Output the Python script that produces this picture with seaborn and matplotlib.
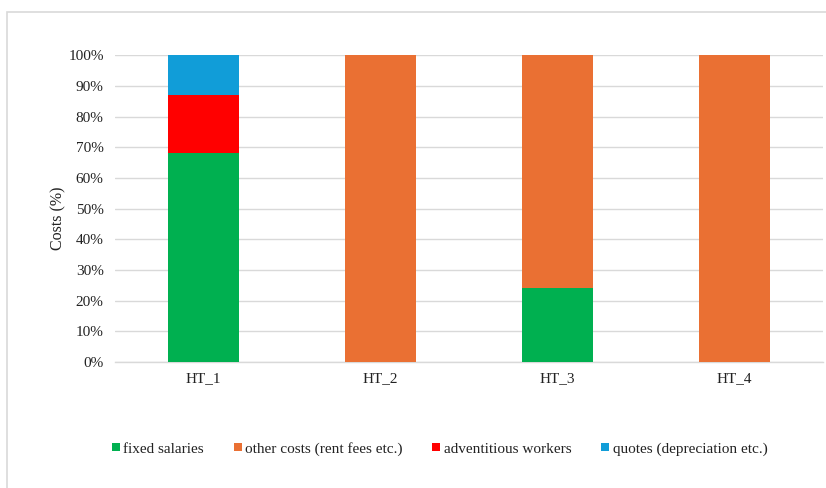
import matplotlib
matplotlib.use("Agg")
import matplotlib.pyplot as plt
from matplotlib.patches import Rectangle
from matplotlib.lines import Line2D
from matplotlib.ticker import PercentFormatter
import seaborn as sns
import pandas as pd
import numpy as np

categories = ["HT_1", "HT_2", "HT_3", "HT_4"]
fixed_salaries = [68, 0, 24, 0]
adventitious_workers = [19, 0, 0, 0]
quotes = [13, 0, 0, 0]
other_costs = [0, 100, 76, 100]

series = [
    ("fixed salaries", fixed_salaries, "#00b050"),
    ("adventitious workers", adventitious_workers, "#ff0000"),
    ("quotes (depreciation etc.)", quotes, "#119dd8"),
    ("other costs (rent fees etc.)", other_costs, "#ea7033"),
]
legend_order = ["fixed salaries", "other costs (rent fees etc.)",
                "adventitious workers", "quotes (depreciation etc.)"]

sns.set_theme(style="white")
plt.rcParams["font.family"] = ["Liberation Serif", "DejaVu Serif"]

fig = plt.figure(figsize=(8.26, 4.88), dpi=100)
ax = fig.add_axes([0.139, 0.258, 0.857, 0.629])

bottom = np.zeros(len(categories))
colors = {}
for name, vals, col in series:
    df = pd.DataFrame({"cat": categories, "val": vals})
    sns.barplot(data=df, x="cat", y="val", color=col, width=0.4,
                bottom=bottom, ax=ax, saturation=1, linewidth=0, zorder=3)
    bottom = bottom + np.array(vals, dtype=float)
    colors[name] = col

ax.set_ylim(0, 100)
ax.set_xlim(-0.5, 3.5)
ax.set_yticks(np.arange(0, 101, 10))
ax.yaxis.set_major_formatter(PercentFormatter(decimals=0))
ax.grid(axis="y", color="#d9d9d9", linewidth=1, zorder=0)
for s in ["top", "right", "left"]:
    ax.spines[s].set_visible(False)
ax.spines["bottom"].set_color("#d9d9d9")
ax.spines["bottom"].set_linewidth(1)
ax.tick_params(axis="both", length=0, labelsize=11, colors="#222222")
ax.tick_params(axis="y", pad=8)
ax.tick_params(axis="x", pad=7)
ax.set_xlabel("")
ax.set_ylabel("Costs (%)", fontsize=11.5, color="#222222")
ax.yaxis.set_label_coords(-0.068, 0.47)

handles = [Line2D([0], [0], marker="s", linestyle="none", markersize=5.5,
                  markerfacecolor=colors[n], markeredgewidth=0) for n in legend_order]
fig.legend(handles, legend_order, loc="center", bbox_to_anchor=(0.532, 0.08),
           ncol=4, frameon=False, fontsize=11, handlelength=0.6,
           handletextpad=0.2, columnspacing=1.9, labelcolor="#222222")

fig.patches.append(Rectangle((0.008, -0.05), 1.1, 1.026, transform=fig.transFigure,
                             fill=False, edgecolor="#d9d9d9", linewidth=1.2))

fig.savefig("out.png", dpi=100, facecolor="white")
